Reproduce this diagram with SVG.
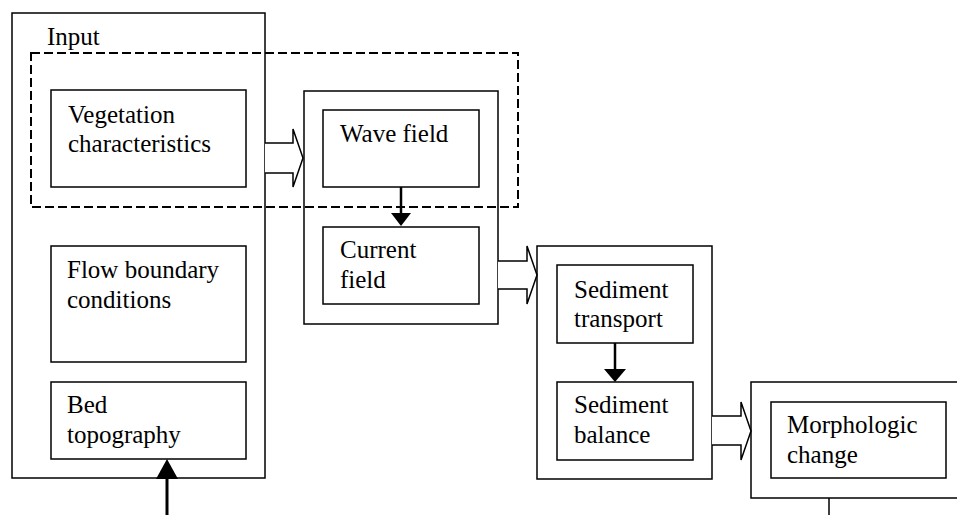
<svg xmlns="http://www.w3.org/2000/svg" width="957" height="515" viewBox="0 0 957 515">
  <style>
    .box { fill: none; stroke: #000; stroke-width: 1.5; }
    .hollow { fill: #fff; stroke: #000; stroke-width: 1.5; stroke-linejoin: miter; }
    .stem { stroke: #000; fill: none; }
    .head { fill: #000; stroke: none; }
    .dash { fill: none; stroke: #000; stroke-width: 2; stroke-dasharray: 9 4; }
  </style>
  <rect width="957" height="515" fill="#fff"/>

  <g font-family="Liberation Serif, Tinos, Times New Roman, Times, FreeSerif, DejaVu Serif, serif" font-size="25" fill="#000">
  <!-- Input panel -->
  <g id="input">
    <rect class="box" x="12" y="13" width="253" height="465"/>
    <text x="47" y="45">Input</text>
  </g>
  <g id="vegetation">
    <rect class="box" x="51" y="90" width="195" height="97"/>
    <text x="68" y="123">Vegetation</text>
    <text x="68" y="152">characteristics</text>
  </g>
  <g id="flow-boundary">
    <rect class="box" x="51" y="246" width="195" height="116"/>
    <text x="67" y="278">Flow boundary</text>
    <text x="67" y="308">conditions</text>
  </g>
  <g id="bed-topography">
    <rect class="box" x="51" y="382" width="195" height="77"/>
    <text x="67" y="413">Bed</text>
    <text x="67" y="443">topography</text>
  </g>

  <!-- Hydrodynamics panel -->
  <g id="hydrodynamics">
    <rect class="box" x="304" y="91" width="194" height="233"/>
  </g>
  <g id="wave-field">
    <rect class="box" x="323" y="110" width="156" height="77"/>
    <text x="340" y="142">Wave field</text>
  </g>
  <g id="current-field">
    <rect class="box" x="323" y="227" width="156" height="77"/>
    <text x="340" y="258">Current</text>
    <text x="340" y="288">field</text>
  </g>

  <!-- Sediment panel -->
  <g id="sediment">
    <rect class="box" x="537" y="246" width="175" height="233"/>
  </g>
  <g id="sediment-transport">
    <rect class="box" x="557" y="265" width="136" height="78"/>
    <text x="574" y="298">Sediment</text>
    <text x="574" y="327">transport</text>
  </g>
  <g id="sediment-balance">
    <rect class="box" x="557" y="382" width="136" height="78"/>
    <text x="574" y="413">Sediment</text>
    <text x="574" y="443">balance</text>
  </g>

  <!-- Morphology panel -->
  <g id="morphology">
    <rect class="box" x="751" y="382" width="215" height="116"/>
  </g>
  <g id="morphologic-change">
    <rect class="box" x="771" y="402" width="175" height="76"/>
    <text x="787" y="433">Morphologic</text>
    <text x="787" y="463">change</text>
  </g>
  </g>

  <!-- Vegetation-affected region -->
  <g id="vegetation-zone">
    <rect class="dash" x="31" y="53" width="487" height="154"/>
  </g>

  <!-- Connectors -->
  <g id="connectors">
    <path class="hollow" d="M265,143 H293 V129 L303,158 L293,187 V173 H265"/>
    <path class="hollow" d="M498,261 H527 V246 L537,275 L527,304 V289 H498"/>
    <path class="hollow" d="M712,416 H741 V402 L751,431 L741,460 V445 H712"/>

    <line class="stem" x1="401" y1="187" x2="401" y2="214" stroke-width="2.5"/>
    <polygon class="head" points="391,213 411,213 401,226"/>

    <line class="stem" x1="615" y1="343" x2="615" y2="370" stroke-width="2.5"/>
    <polygon class="head" points="604,369 626,369 615,382"/>

    <line class="stem" x1="167" y1="515" x2="167" y2="477" stroke-width="3"/>
    <polygon class="head" points="156,479 178,479 167,459"/>

    <line class="stem" x1="829" y1="498" x2="829" y2="515" stroke-width="1.5"/>
  </g>
</svg>
